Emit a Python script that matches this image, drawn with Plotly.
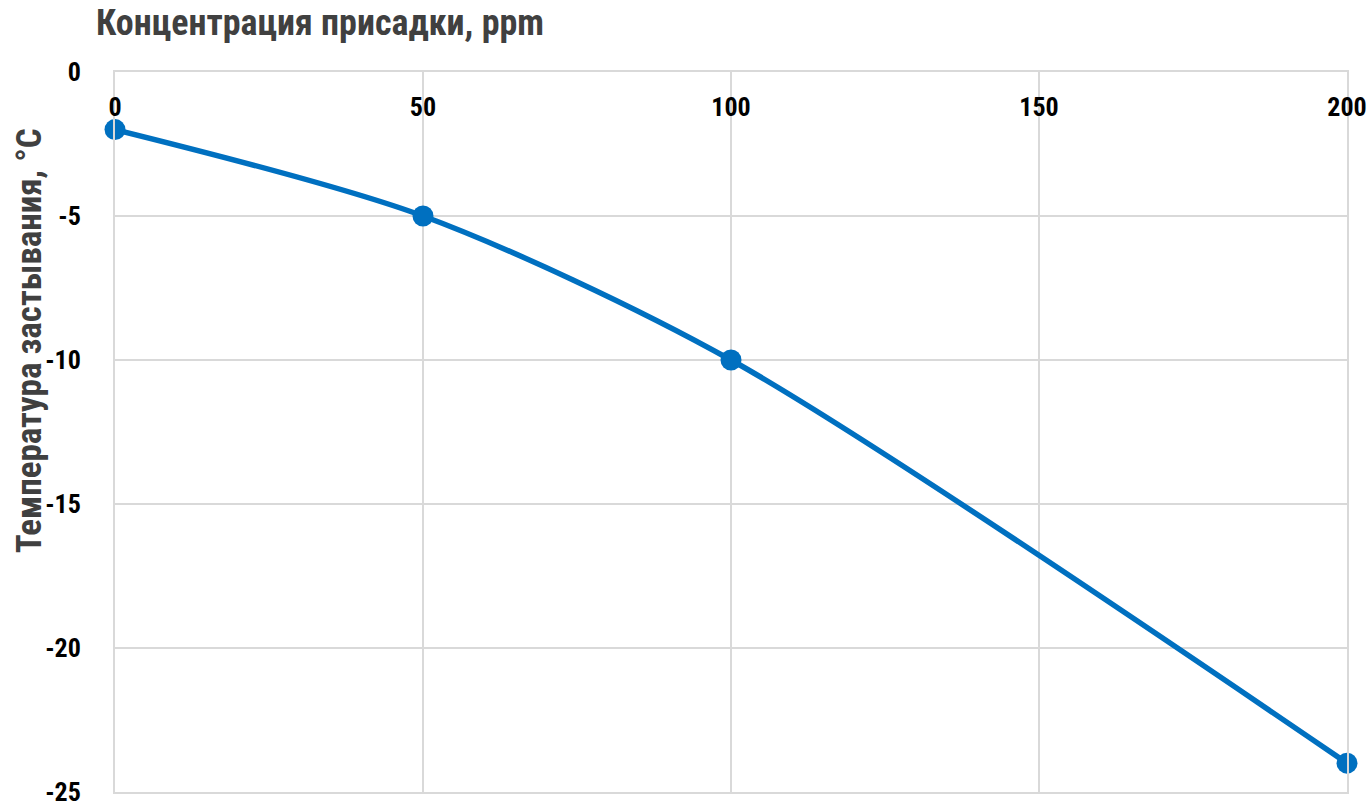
import plotly.graph_objects as go

concentration = [0, 50, 100, 200]
pour_point = [-2, -5, -10, -24]
x_ticks = [0, 50, 100, 150, 200]
x_tick_labels = ["0", "50", "100", "150", "200"]
y_ticks = [0, -5, -10, -15, -20, -25]
y_tick_labels = ["0", "-5", "-10", "-15", "-20", "-25"]

FONT = "Roboto Condensed, Arial Narrow, Roboto, Arial"
GRID = "#D9D9D9"
BLUE = "#0070C0"

fig = go.Figure()
fig.add_trace(go.Scatter(
    x=concentration, y=pour_point,
    mode="lines+markers",
    line=dict(color=BLUE, width=5.5, shape="spline", smoothing=0.8),
    marker=dict(color=BLUE, size=21),
    showlegend=False,
    cliponaxis=False,
))

fig.update_layout(
    width=1370, height=806,
    margin=dict(l=115, r=23, t=72, b=14, autoexpand=False),
    paper_bgcolor="white", plot_bgcolor="white",
    font=dict(family=FONT, color="black"),
    xaxis=dict(
        side="top", range=[0, 200], tickvals=x_ticks, ticktext=x_tick_labels,
        ticklabelposition="inside", ticklabeloverflow="allow", automargin=False,
        showgrid=True, gridcolor=GRID, gridwidth=2,
        showline=True, linecolor=GRID, linewidth=2, mirror=True,
        zeroline=False,
        ticks="inside", ticklen=28, tickcolor="rgba(0,0,0,0)",
        tickfont=dict(family=FONT, size=26, color="black", weight="bold"),
    ),
    yaxis=dict(
        range=[-25, 0], tickvals=y_ticks, ticktext=y_tick_labels,
        ticklabeloverflow="allow", automargin=False,
        showgrid=True, gridcolor=GRID, gridwidth=2,
        showline=True, linecolor=GRID, linewidth=2, mirror=True,
        zeroline=False,
        ticks="outside", ticklen=27, tickcolor="rgba(0,0,0,0)",
        tickfont=dict(family=FONT, size=26, color="black", weight="bold"),
    ),
    annotations=[
        dict(text="<b>Концентрация присадки, ppm</b>", xref="paper", yref="paper",
             x=0, y=1.0, xanchor="left", yanchor="middle", xshift=-21, yshift=49,
             showarrow=False, font=dict(family=FONT, size=36, color="#404040")),
        dict(text="<b>Температура застывания, °C</b>", xref="paper", yref="paper",
             x=0, y=0.626, xanchor="center", yanchor="middle", xshift=-86,
             textangle=-90, showarrow=False,
             font=dict(family=FONT, size=35, color="#404040")),
    ],
)

fig.write_html(
    "out.html",
    config={"displayModeBar": False},
    post_script="document.body.style.margin='0';document.body.style.overflow='hidden';",
)
